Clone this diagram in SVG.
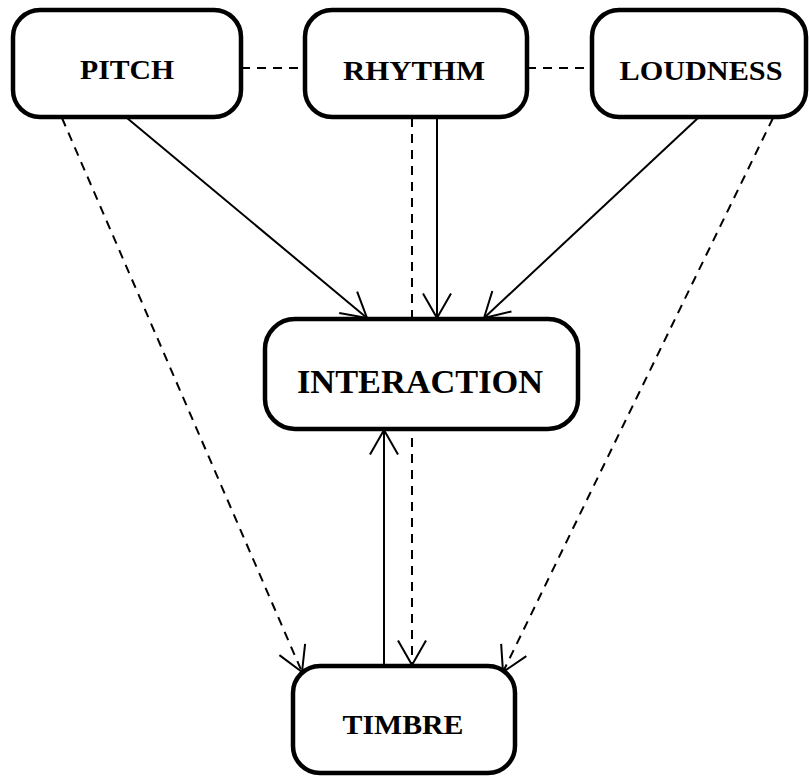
<svg xmlns="http://www.w3.org/2000/svg" width="809" height="776" viewBox="0 0 809 776">
  <style>
    .box { fill: #ffffff; stroke: #000000; stroke-width: 4.5; }
    .label { font-family: "Liberation Serif", "Times New Roman", serif; font-weight: bold; fill: #000000; text-anchor: middle; }
    .solid { stroke: #000000; stroke-width: 2; fill: none; }
    .dash { stroke: #000000; stroke-width: 2; fill: none; stroke-dasharray: 9 7; }
  </style>
  <defs>
    <marker id="open" markerUnits="userSpaceOnUse" markerWidth="40" markerHeight="40" viewBox="-30 -20 32 40" refX="0" refY="0" orient="auto">
      <path d="M-24.5,-14 L0,0 L-24.5,14" fill="none" stroke="#000000" stroke-width="2"/>
    </marker>
  </defs>

  <rect width="809" height="776" fill="#ffffff"/>

  <g id="connectors">
    <!-- dashed links between the top row -->
    <line class="dash" x1="241" y1="68" x2="305" y2="68"/>
    <line class="dash" x1="527" y1="68" x2="592" y2="68"/>
    <!-- solid arrows into INTERACTION -->
    <line class="solid" x1="127" y1="118" x2="367" y2="318" marker-end="url(#open)"/>
    <line class="solid" x1="437" y1="118" x2="437" y2="318" marker-end="url(#open)"/>
    <line class="solid" x1="698" y1="118" x2="484" y2="318" marker-end="url(#open)"/>
    <!-- dashed arrows into TIMBRE -->
    <line class="dash" x1="62" y1="118" x2="302" y2="672" marker-end="url(#open)"/>
    <line class="dash" x1="412" y1="118" x2="412" y2="665" marker-end="url(#open)"/>
    <line class="dash" x1="773" y1="118" x2="503" y2="672" marker-end="url(#open)"/>
    <!-- TIMBRE back up to INTERACTION -->
    <line class="solid" x1="384" y1="665" x2="384" y2="430" marker-end="url(#open)"/>
  </g>

  <g id="pitch">
    <rect class="box" x="13" y="10" width="228" height="107" rx="27" ry="27"/>
    <text class="label" x="127" y="79" font-size="28" textLength="94" lengthAdjust="spacingAndGlyphs">PITCH</text>
  </g>
  <g id="rhythm">
    <rect class="box" x="305" y="10" width="222" height="107" rx="27" ry="27"/>
    <text class="label" x="414" y="80" font-size="28" textLength="142" lengthAdjust="spacingAndGlyphs">RHYTHM</text>
  </g>
  <g id="loudness">
    <rect class="box" x="592" y="10" width="214" height="107" rx="27" ry="27"/>
    <text class="label" x="701" y="80" font-size="28" textLength="163" lengthAdjust="spacingAndGlyphs">LOUDNESS</text>
  </g>
  <g id="interaction">
    <rect class="box" x="265" y="319" width="313" height="110" rx="30" ry="30"/>
    <text class="label" x="420" y="393" font-size="34" textLength="246" lengthAdjust="spacingAndGlyphs">INTERACTION</text>
  </g>
  <g id="timbre">
    <rect class="box" x="293" y="666" width="222" height="107" rx="27" ry="27"/>
    <text class="label" x="403" y="734" font-size="28" textLength="121" lengthAdjust="spacingAndGlyphs">TIMBRE</text>
  </g>
</svg>
